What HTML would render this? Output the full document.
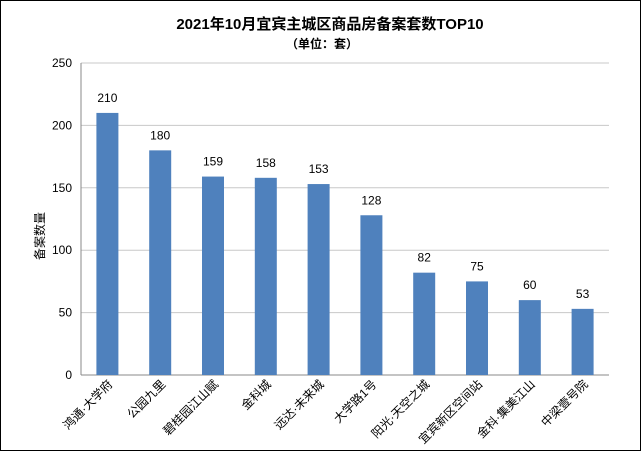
<!DOCTYPE html>
<html><head><meta charset="utf-8"><style>
body{margin:0;background:#fff}
svg{display:block;font-family:"Liberation Sans","Noto Sans CJK SC",sans-serif}
</style></head><body>
<svg id="c" width="641" height="451">
<rect x="0.5" y="0.5" width="640" height="450" fill="#fff" stroke="#000"/>
<text x="330" y="29" text-anchor="middle" font-size="15" font-weight="bold">2021年10月宜宾主城区商品房备案套数TOP10</text>
<text x="322" y="48" text-anchor="middle" font-size="12" font-weight="bold">（单位：套）</text>
<text transform="translate(44,236) rotate(-90)" text-anchor="middle" font-size="12">备案数量</text>
<g id="g"></g>
</svg>
<script>
const categories=["鸿通·大学府","公园九里","碧桂园江山赋","金科城","远达·未来城","大学路1号","阳光·天空之城","宜宾新区空间站","金科·集美江山","中梁壹号院"];
const values=[210,180,159,158,153,128,82,75,60,53];
const ticks=[0,50,100,150,200,250];
const x0=81,x1=609,yTop=63,yBot=375,max=250;
const y=v=>yBot-(v/max)*(yBot-yTop);
const bw=(x1-x0)/categories.length;
const xc=i=>x0+bw*(i+0.5);
const g=document.getElementById('g');
const NS='http://www.w3.org/2000/svg';
function mk(t,a){const e=document.createElementNS(NS,t);for(const k in a)e.setAttribute(k,a[k]);g.appendChild(e);return e;}
ticks.forEach(t=>{
 const l=mk('line',{x1:x0,x2:x1,y1:y(t),y2:y(t),stroke:t===0?'#888':'#c8c8c8'});
 
 
 const tx=mk('text',{x:x0-9,y:y(t)+4,'text-anchor':'end','font-size':12});
 tx.textContent=t;
 
 
});
const ax=mk('line',{x1:x0,x2:x0,y1:yTop,y2:yBot,stroke:'#888'});


categories.forEach((c,i)=>{
 const v=values[i];
 const r=mk('rect',{x:xc(i)-11,y:y(v),width:22,height:yBot-y(v),fill:'#4f81bd'});
 
 
 const t=mk('text',{x:xc(i),y:y(v)-11,'text-anchor':'middle','font-size':12});
 t.textContent=v;
 
 
 const lb=mk('text',{transform:`translate(${xc(i)+6},${yBot+10}) rotate(-45)`,'text-anchor':'end','font-size':12});
 lb.textContent=c;
 
 
});
</script>
</body></html>
